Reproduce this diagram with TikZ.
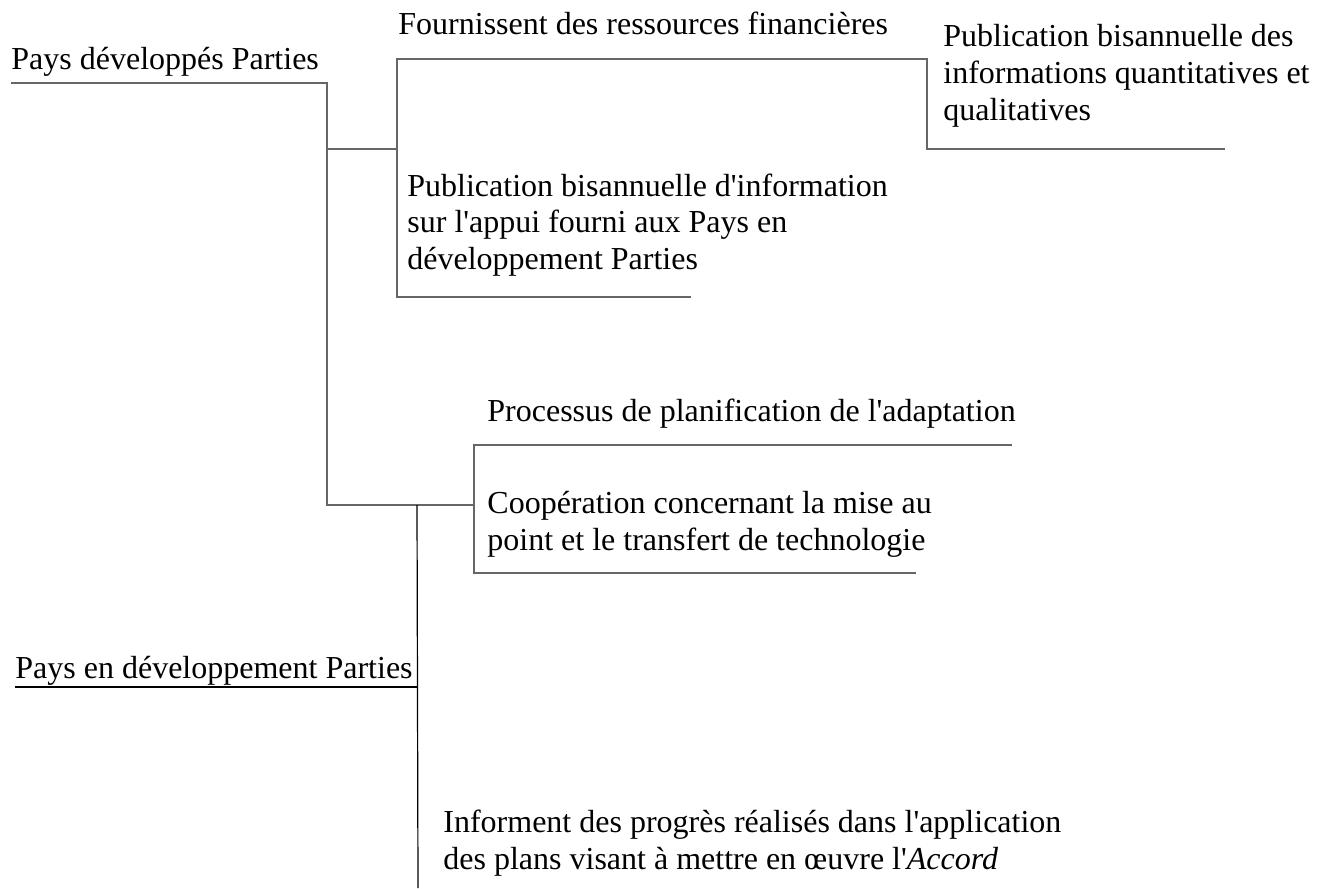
\documentclass[tikz,border=0pt]{standalone}
\usepackage{fontspec}
\setmainfont{Liberation Serif}
\newcommand{\apos}{\textquotesingle}

\begin{document}
\begin{tikzpicture}[x=0.5pt, y=-0.5pt,
		t/.style={anchor=base west, inner sep=0pt, align=left, font=\fontsize{16}{18.25}\selectfont},
		ln/.style={draw=black!60, line width=0.6pt},
		dk/.style={draw=black, line width=0.6pt}]
		\useasboundingbox (0,0) rectangle (1321,888);

		% texts, placed at the baseline of their last line
		\node [t] (PD)   at (11,70)  {Pays développés Parties};
		\node [t] (Four) at (398,35) {Fournissent des ressources financières};
		\node [t] (PubQ) at (943,120) {Publication bisannuelle des\\informations quantitatives et\\qualitatives};
		\node [t] (PubA) at (407,269) {Publication bisannuelle d\apos information\\sur l\apos appui fourni aux Pays en\\développement Parties};
		\node [t] (Proc) at (487,421) {Processus de planification de l\apos adaptation};
		\node [t] (Coop) at (487,550) {Coopération concernant la mise au\\point et le transfert de technologie};
		\node [t] (PED)  at (15,678) {Pays en développement Parties};
		\node [t] (Info) at (443,869) {Informent des progrès réalisés dans l\apos application\\des plans visant à mettre en œuvre l\apos\textit{Accord}};

		% corners of the branches
		\coordinate (a0) at (11,83);   \coordinate (a1) at (327,83);
		\coordinate (a2) at (327,149); \coordinate (a3) at (327,505);
		\coordinate (b0) at (397,59);  \coordinate (b1) at (397,149);
		\coordinate (b2) at (397,297); \coordinate (b3) at (691,297);
		\coordinate (c0) at (927,59);  \coordinate (c1) at (927,149);
		\coordinate (c2) at (1225,149);
		\coordinate (d0) at (474,445); \coordinate (d1) at (1012,445);
		\coordinate (d2) at (474,505); \coordinate (d3) at (474,573);
		\coordinate (d4) at (916,573);
		\coordinate (e0) at (417,505); \coordinate (e1) at (418,888);
		\coordinate (f0) at (15,687);  \coordinate (f1) at (418,687);

		\draw [ln] (a0) -- (a1) -- (a3) -- (d2);
		\draw [ln] (a2) -- (b1);
		\draw [ln] (b3) -- (b2) -- (b0) -- (c0) -- (c1) -- (c2);
		\draw [ln] (d1) -- (d0) -- (d3) -- (d4);
		\draw [dk] (e0) -- (e1);
		\draw [dk] (f0) -- (f1);
	\end{tikzpicture}
\end{document}
